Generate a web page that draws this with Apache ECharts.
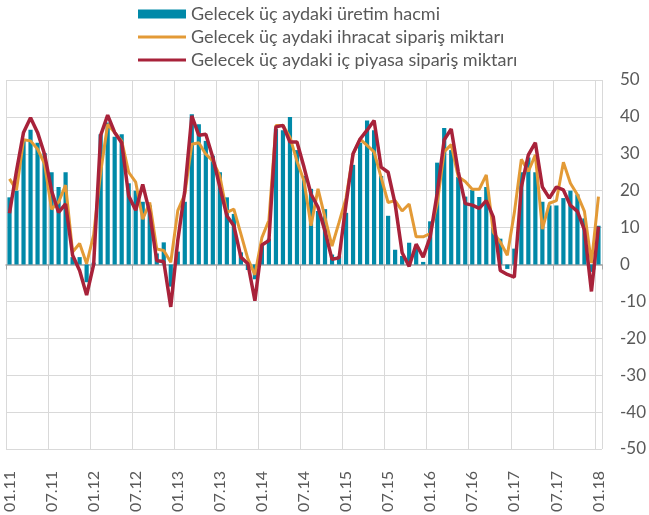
<!DOCTYPE html>
<html>
<head>
<meta charset="utf-8">
<script src="https://cdn.jsdelivr.net/npm/echarts@6/dist/echarts.min.js"></script>
<style>
  html, body { margin: 0; padding: 0; background: #fff; }
  #beklenti_chart { width: 649px; height: 515px; }
</style>
</head>
<body>
<div id="beklenti_chart"></div>
<script>
// aylar (01.11 - 01.18)
var aylar = [
    '01.11', '02.11', '03.11', '04.11', '05.11', '06.11', '07.11', '08.11', '09.11', '10.11', '11.11', '12.11',
    '01.12', '02.12', '03.12', '04.12', '05.12', '06.12', '07.12', '08.12', '09.12', '10.12', '11.12', '12.12',
    '01.13', '02.13', '03.13', '04.13', '05.13', '06.13', '07.13', '08.13', '09.13', '10.13', '11.13', '12.13',
    '01.14', '02.14', '03.14', '04.14', '05.14', '06.14', '07.14', '08.14', '09.14', '10.14', '11.14', '12.14',
    '01.15', '02.15', '03.15', '04.15', '05.15', '06.15', '07.15', '08.15', '09.15', '10.15', '11.15', '12.15',
    '01.16', '02.16', '03.16', '04.16', '05.16', '06.16', '07.16', '08.16', '09.16', '10.16', '11.16', '12.16',
    '01.17', '02.17', '03.17', '04.17', '05.17', '06.17', '07.17', '08.17', '09.17', '10.17', '11.17', '12.17',
    '01.18'
]

// Gelecek üç aydaki üretim hacmi (sütun)
var uretim = [
    18.2, 20, 33.5, 36.5, 33, 30.2, 25, 21, 25, 2, 2, -4.8,
    0.5, 35.3, 38.5, 34.6, 35.3, 22, 20, 17, 16, 3, 6, -6,
    3.5, 17, 40.7, 38, 33.5, 29.5, 25, 18.2, 13.7, 3.3, -1.5, -4,
    5.5, 7, 36.8, 36.4, 40, 31, 24, 20.5, 14.5, 15, 2.7, 2.3,
    14, 27, 33, 39, 36.4, 24, 13.2, 4, 2.3, 5.9, 4.5, 0.7,
    11.7, 27.6, 37, 31, 23.7, 18.4, 20.2, 18.3, 21, 10, 7, -1.2,
    4.3, 25, 29, 25, 17, 16, 16, 18, 20, 19, 12.5, -2,
    10.5
]

// Gelecek üç aydaki ihracat sipariş miktarı
var ihracat = [
    23.2, 20.2, 33.8, 33.5, 31.3, 27.3, 15, 16.9, 21.5, 3.4, 5.7, 0.2,
    8, 25, 38, 35.8, 33.5, 25, 22.3, 12.3, 16.8, 4.2, 3.8, 0.6,
    14.6, 19, 32.6, 33, 29.9, 28.1, 24, 14.1, 15, 8.3, 1.5, -2.8,
    7.3, 12, 37.7, 37.7, 34.5, 28, 22.7, 10.5, 20.5, 12.7, 5, 11.4,
    18, 30, 34, 32.3, 30.5, 23.6, 16.8, 17.3, 14.5, 16.4, 7.5, 7.5,
    8.4, 16.5, 30.6, 32.5, 23.8, 22.5, 20.4, 20.4, 24.3, 8.8, 6.1, 2.5,
    14, 28.5, 25.2, 29.7, 9.6, 16.6, 17.3, 27.7, 22, 18.9, 14.4, 0.4,
    18.4
]

// Gelecek üç aydaki iç piyasa sipariş miktarı
var ic_piyasa = [
    13.9, 25.4, 35.8, 39.8, 35.8, 29.9, 20, 14.1, 16.4, 2.5, -1.6, -8.3,
    0, 35, 40.5, 35.8, 33, 18.6, 14.7, 21.7, 14, 1, 0.8, -11.5,
    6.5, 20, 40.3, 35, 35.3, 29, 21, 13.2, 10.5, 2, 0.2, -9.8,
    5.3, 6.5, 37.3, 37.7, 33.2, 33.2, 26.4, 19.1, 15.5, 9, 1.4, 1.8,
    16.4, 30, 34, 36.4, 39, 26.4, 25, 16.4, 3.2, -0.5, 5.5, 2,
    7.5, 19.3, 33.8, 36.7, 25.2, 16.5, 16.1, 15.2, 17.3, 12.9, -1.6, -2.7,
    -3.4, 21, 29.7, 33, 21, 18, 21, 20.2, 16, 14.4, 9.4, -7.3,
    10.3
]

var seri_adlari = [
    'Gelecek üç aydaki üretim hacmi',
    'Gelecek üç aydaki ihracat sipariş miktarı',
    'Gelecek üç aydaki iç piyasa sipariş miktarı'
]

var renkler = ['#0089a8', '#e39a36', '#a8223a']
var yazi_rengi = '#595959'
var grid_rengi = '#d9d9d9'

// lejanttaki çizgi simgesi (ince dikdörtgen)
var cizgi_ikon = 'path://M0,0 L48,0 L48,3 L0,3 Z'

var beklenti_chart = echarts.init(document.getElementById('beklenti_chart'), null, {renderer: 'canvas'});

var option = {
    animation: false,
    textStyle: {
        fontFamily: 'Lato'
    },
    legend: {
        orient: 'vertical',
        left: 133,
        top: 0,
        itemWidth: 48,
        itemHeight: 9,
        itemGap: 5,
        symbolKeepAspect: true,
        textStyle: {
            color: yazi_rengi,
            fontSize: 18,
            fontFamily: 'Lato'
        },
        data: [
            {name: seri_adlari[0], icon: 'rect'},
            {name: seri_adlari[1], icon: cizgi_ikon},
            {name: seri_adlari[2], icon: cizgi_ikon}
        ]
    },
    grid: {
        left: 6,
        right: 44,
        top: 80,
        bottom: 66,
        containLabel: false
    },
    xAxis: [
        {
            // alttaki etiketler
            type: 'category',
            data: aylar,
            position: 'bottom',
            boundaryGap: true,
            axisLine: {
                show: false,
                onZero: false
            },
            axisTick: {
                show: false
            },
            axisLabel: {
                interval: 5,
                rotate: 90,
                margin: 22,
                color: yazi_rengi,
                fontSize: 16,
                fontFamily: 'Lato'
            },
            splitLine: {
                show: true,
                interval: 5,
                lineStyle: {
                    color: grid_rengi,
                    width: 1
                }
            }
        },
        {
            // sıfır çizgisi ve tikler
            type: 'category',
            data: aylar,
            position: 'bottom',
            boundaryGap: true,
            axisLine: {
                show: true,
                onZero: true,
                lineStyle: {
                    color: '#a6a6a6',
                    width: 1.5
                }
            },
            axisTick: {
                show: true,
                interval: 5,
                length: 5,
                lineStyle: {
                    color: '#a6a6a6'
                }
            },
            axisLabel: {
                show: false
            },
            splitLine: {
                show: false
            }
        }
    ],
    yAxis: {
        type: 'value',
        position: 'right',
        min: -50,
        max: 50,
        interval: 10,
        axisLine: {
            show: false
        },
        axisTick: {
            show: false
        },
        axisLabel: {
            margin: 18,
            color: yazi_rengi,
            fontSize: 17,
            fontFamily: 'Lato'
        },
        splitLine: {
            lineStyle: {
                color: grid_rengi,
                width: 1
            }
        }
    },
    series: [
        {
            name: seri_adlari[0],
            type: 'bar',
            xAxisIndex: 0,
            data: uretim,
            barWidth: '60%',
            itemStyle: {
                color: renkler[0]
            }
        },
        {
            name: seri_adlari[1],
            type: 'line',
            xAxisIndex: 0,
            data: ihracat,
            symbol: 'none',
            lineStyle: {
                color: renkler[1],
                width: 3
            },
            itemStyle: {
                color: renkler[1]
            }
        },
        {
            name: seri_adlari[2],
            type: 'line',
            xAxisIndex: 0,
            data: ic_piyasa,
            symbol: 'none',
            lineStyle: {
                color: renkler[2],
                width: 3.5
            },
            itemStyle: {
                color: renkler[2]
            }
        }
    ]
};
beklenti_chart.setOption(option);
</script>
</body>
</html>
